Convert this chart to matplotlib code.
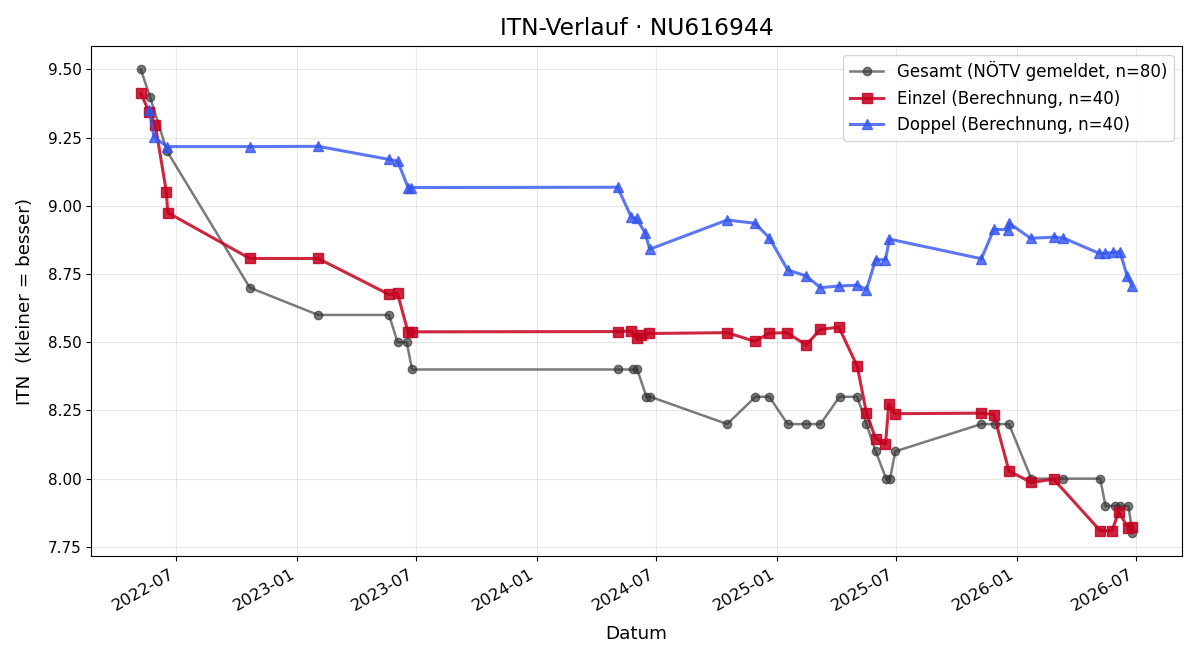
import matplotlib
matplotlib.use("Agg")
import matplotlib.pyplot as plt
import matplotlib.dates as mdates
import pandas as pd

# Gesamt (NÖTV gemeldet)
gesamt_dates = [
    "2022-05-08", "2022-05-22", "2022-06-17", "2022-10-21", "2023-02-02",
    "2023-05-21", "2023-06-03", "2023-06-17", "2023-06-25", "2024-05-04",
    "2024-05-26", "2024-06-02", "2024-06-16", "2024-06-22", "2024-10-17",
    "2024-11-29", "2024-12-20", "2025-01-17", "2025-02-14", "2025-03-08",
    "2025-04-06", "2025-05-03", "2025-05-17", "2025-05-31", "2025-06-16",
    "2025-06-22", "2025-06-30", "2025-11-08", "2025-11-28", "2025-12-20",
    "2026-01-23", "2026-03-13", "2026-05-08", "2026-05-16", "2026-05-31",
    "2026-06-07", "2026-06-20", "2026-06-26",
]
gesamt_itn = [
    9.50, 9.40, 9.20, 8.70, 8.60,
    8.60, 8.50, 8.50, 8.40, 8.40,
    8.40, 8.40, 8.30, 8.30, 8.20,
    8.30, 8.30, 8.20, 8.20, 8.20,
    8.30, 8.30, 8.20, 8.10, 8.00,
    8.00, 8.10, 8.20, 8.20, 8.20,
    8.00, 8.00, 8.00, 7.90, 7.90,
    7.90, 7.90, 7.80,
]

# Einzel (Berechnung)
einzel_dates = [
    "2022-05-08", "2022-05-21", "2022-05-30", "2022-06-16", "2022-06-18",
    "2022-10-21", "2023-02-02", "2023-05-21", "2023-06-03", "2023-06-19",
    "2023-06-25", "2024-05-04", "2024-05-24", "2024-06-01", "2024-06-08",
    "2024-06-20", "2024-10-17", "2024-11-28", "2024-12-20", "2025-01-16",
    "2025-02-14", "2025-03-08", "2025-04-05", "2025-05-03", "2025-05-17",
    "2025-05-31", "2025-06-15", "2025-06-20", "2025-06-29", "2025-11-08",
    "2025-11-27", "2025-12-20", "2026-01-23", "2026-02-26", "2026-05-08",
    "2026-05-26", "2026-06-05", "2026-06-20", "2026-06-25",
]
einzel_itn = [
    9.413, 9.342, 9.298, 9.050, 8.975,
    8.807, 8.807, 8.675, 8.679, 8.536,
    8.538, 8.539, 8.541, 8.516, 8.525,
    8.532, 8.535, 8.503, 8.533, 8.535,
    8.490, 8.547, 8.555, 8.412, 8.240,
    8.147, 8.126, 8.273, 8.238, 8.240,
    8.235, 8.028, 7.986, 7.998, 7.809,
    7.809, 7.878, 7.818, 7.822,
]

# Doppel (Berechnung)
doppel_dates = [
    "2022-05-21", "2022-05-28", "2022-06-17", "2022-10-21", "2023-02-02",
    "2023-05-21", "2023-06-03", "2023-06-19", "2023-06-24", "2024-05-03",
    "2024-05-24", "2024-06-01", "2024-06-14", "2024-06-21", "2024-10-17",
    "2024-11-28", "2024-12-20", "2025-01-17", "2025-02-14", "2025-03-08",
    "2025-04-05", "2025-05-03", "2025-05-17", "2025-05-31", "2025-06-15",
    "2025-06-21", "2025-11-08", "2025-11-27", "2025-12-19", "2025-12-20",
    "2026-01-22", "2026-02-26", "2026-03-13", "2026-05-06", "2026-05-16",
    "2026-05-28", "2026-06-07", "2026-06-18", "2026-06-25",
]
doppel_itn = [
    9.352, 9.252, 9.217, 9.217, 9.218,
    9.170, 9.164, 9.067, 9.067, 9.068,
    8.958, 8.954, 8.900, 8.841, 8.948,
    8.936, 8.883, 8.765, 8.743, 8.700,
    8.706, 8.709, 8.693, 8.803, 8.802,
    8.878, 8.806, 8.914, 8.912, 8.937,
    8.881, 8.885, 8.882, 8.826, 8.826,
    8.829, 8.832, 8.743, 8.707,
]

fig, ax = plt.subplots(figsize=(12, 6.6), dpi=100)

ax.plot(pd.to_datetime(gesamt_dates), gesamt_itn, color="#333333", alpha=0.65,
        marker="o", markersize=6, linewidth=1.8,
        label="Gesamt (NÖTV gemeldet, n=80)")
ax.plot(pd.to_datetime(einzel_dates), einzel_itn, color="#c4001f", alpha=0.85,
        marker="s", markersize=7, linewidth=2.2,
        label="Einzel (Berechnung, n=40)")
ax.plot(pd.to_datetime(doppel_dates), doppel_itn, color="#3355ee", alpha=0.8,
        marker="^", markersize=7, linewidth=2.2,
        label="Doppel (Berechnung, n=40)")

ax.set_title("ITN-Verlauf · NU616944", fontsize=16.8, pad=8)
ax.set_xlabel("Datum", fontsize=13.2, labelpad=8)
ax.set_ylabel("ITN  (kleiner = besser)", fontsize=13.2, labelpad=10)
ax.set_yticks([7.75, 8.00, 8.25, 8.50, 8.75, 9.00, 9.25, 9.50])
ax.yaxis.set_major_formatter(plt.FormatStrFormatter("%.2f"))
ax.xaxis.set_major_locator(mdates.MonthLocator(bymonth=[1, 7]))
ax.xaxis.set_major_formatter(mdates.DateFormatter("%Y-%m"))
ax.tick_params(axis="y", labelsize=11)
ax.tick_params(axis="x", labelsize=11.8)
ax.grid(True, alpha=0.3)
ax.legend(loc="upper right", fontsize=12)
fig.autofmt_xdate()
fig.subplots_adjust(left=0.076, right=0.985, top=0.93, bottom=0.157)

fig.savefig("out.png")
